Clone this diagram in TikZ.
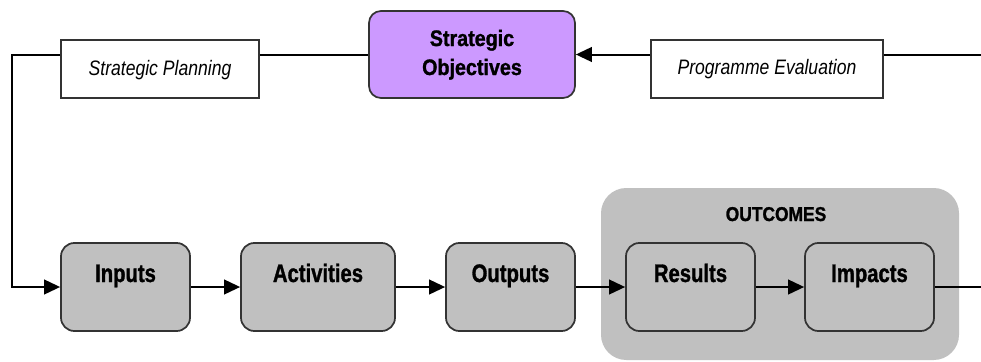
\documentclass[tikz,border=0pt]{standalone}
\usepackage{fontspec}
\setmainfont{Liberation Sans}
\newfontfamily\condit[FakeStretch=0.84]{Liberation Sans Italic}
\newfontfamily\condbfA[FakeStretch=0.80,FakeBold=1.2]{Liberation Sans Bold}
\newfontfamily\condbfB[FakeStretch=0.88,FakeBold=1.2]{Liberation Sans Bold}
\newfontfamily\condbfC[FakeStretch=0.87,FakeBold=1.2]{Liberation Sans Bold}
\usetikzlibrary{arrows.meta}
\definecolor{boxgray}{HTML}{C0C0C0}
\definecolor{violetfill}{HTML}{CC99FF}
\definecolor{edgegray}{HTML}{333333}
\tikzset{
  conn/.style={line width=1.5pt, black},
  arr/.style={conn, -{Triangle[length=12pt,width=11pt]}},
  graybox/.style={draw=edgegray, line width=1.3pt, fill=boxgray, rounded corners=10pt,
    minimum width=96.75pt, minimum height=66pt, inner sep=0pt},
  whitebox/.style={draw=edgegray, line width=1.3pt, fill=white, inner sep=0pt, minimum height=43.5pt},
  boldlbl/.style={font=\fontsize{19}{22}\selectfont\condbfA, inner sep=0pt, anchor=base},
  itlbl/.style={font=\fontsize{15.7}{18}\selectfont\condit, inner sep=0pt, anchor=base}
}
\begin{document}
\begin{tikzpicture}[x=0.75pt,y=-0.75pt]
\useasboundingbox (0,0) rectangle (981,361);
\fill[white] (0,0) rectangle (981,361);
% outcomes group
\node[fill=boxgray, rounded corners=19pt, minimum width=268.5pt, minimum height=129pt, inner sep=0pt] (outc) at (780,274) {};
\node[font=\fontsize{15}{17}\selectfont\condbfC, inner sep=0pt, anchor=base] (outcT) at (776,221) {OUTCOMES};
% top row
\node[draw=edgegray, line width=1.3pt, fill=violetfill, rounded corners=9pt, minimum width=154.5pt, minimum height=65.25pt, inner sep=0pt] (so) at (472,54.5) {};
\node[font=\fontsize{16.8}{21.75}\selectfont\condbfB, inner sep=0pt, anchor=base, align=center] (soT) at (472,75) {Strategic\\Objectives};
\node[whitebox, minimum width=148.5pt] (sp) at (160,69) {};
\node[itlbl] (spT) at (160,75) {Strategic Planning};
\node[whitebox, minimum width=174pt] (pe) at (767,69) {};
\node[itlbl] (peT) at (767,74.5) {Programme Evaluation};
% bottom row
\node[graybox] (inputs) at (125.5,287) {};
\node[boldlbl] (inputsT) at (125.5,282) {Inputs};
\node[graybox, minimum width=115.5pt] (act) at (318,287) {};
\node[boldlbl] (actT) at (318,282) {Activities};
\node[graybox] (outp) at (510.5,287) {};
\node[boldlbl] (outpT) at (510.5,282) {Outputs};
\node[graybox] (res) at (690.5,287) {};
\node[boldlbl] (resT) at (690.5,282) {Results};
\node[graybox] (imp) at (869.5,287) {};
\node[boldlbl] (impT) at (869.5,282) {Impacts};
% free ends
\coordinate (lc) at (12,54.5);
\coordinate (rtop) at (982,54.5);
\coordinate (rbot) at (982,287);
% connectors
\draw[conn] (sp.east |- so.west) -- (so.west);
\draw[arr] (pe.west |- so.east) -- (so.east);
\draw[conn] (pe.east |- so.east) -- (rtop);
\draw[arr] (sp.west |- so.west) -- (lc) |- (inputs.west);
\draw[arr] (inputs) -- (act);
\draw[arr] (act) -- (outp);
\draw[arr] (outp) -- (res);
\draw[arr] (res) -- (imp);
\draw[conn] (imp.east) -- (rbot);
\end{tikzpicture}
\end{document}
